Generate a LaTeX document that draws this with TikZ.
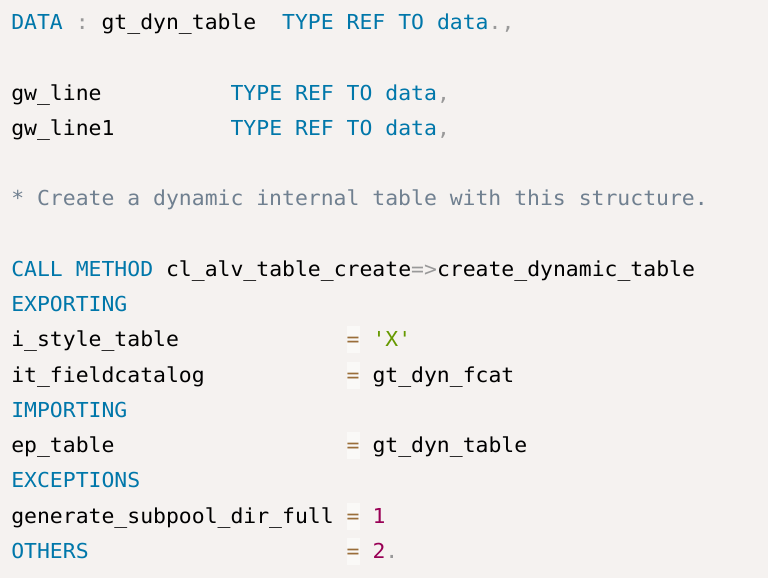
\documentclass[tikz,border=0pt]{standalone}
\usepackage{fontspec}
\newfontfamily\codefont[FakeStretch=1.04,Ligatures=TeXOff]{DejaVu Sans Mono}
\definecolor{bgc}{HTML}{F5F2F0}
\definecolor{kwc}{HTML}{0077AA}
\definecolor{cmc}{HTML}{708090}
\definecolor{puc}{HTML}{999999}
\definecolor{stc}{HTML}{669900}
\definecolor{nuc}{HTML}{990055}
\definecolor{opc}{HTML}{9A6E3A}
\definecolor{opbg}{HTML}{FAF9F7}
\tikzset{
  tk/.style={anchor=base west,inner sep=0pt,outer sep=0pt,
    font=\codefont\fontsize{20.6}{24}\selectfont,text=black},
  tkw/.style={text=kwc},
  tcm/.style={text=cmc},
  tpu/.style={text=puc},
  tst/.style={text=stc},
  tnu/.style={text=nuc},
  top/.style={text=opc},
  tpl/.style={},
}
\newcommand\tok[5]{\node[tk,#4] (#1) at ({11.3+12.9*#2},{-(29.5+35.25*#3)}) {#5};}
\newcommand\opbox[2]{\fill[opbg] ({11.3+12.9*26},{-(29.5+35.25*#2)+20.5}) rectangle ({11.3+12.9*27},{-(29.5+35.25*#2)-6.5});
  \tok{#1}{26}{#2}{top}{=}}
\begin{document}
\begin{tikzpicture}[x=1pt,y=1pt]
\fill[bgc] (0,0) rectangle (768,-578);
\useasboundingbox (0,0) rectangle (768,-578);
% line 0
\tok{a0}{0}{0}{tkw}{DATA}
\tok{a1}{5}{0}{tpu}{:}
\tok{a2}{7}{0}{tpl}{gt\_dyn\_table}
\tok{a3}{21}{0}{tkw}{TYPE}
\tok{a4}{26}{0}{tkw}{REF}
\tok{a5}{30}{0}{tkw}{TO}
\tok{a6}{33}{0}{tkw}{data}
\tok{a7}{37}{0}{tpu}{.,}
% line 2
\tok{b0}{0}{2}{tpl}{gw\_line}
\tok{b1}{17}{2}{tkw}{TYPE}
\tok{b2}{22}{2}{tkw}{REF}
\tok{b3}{26}{2}{tkw}{TO}
\tok{b4}{29}{2}{tkw}{data}
\tok{b5}{33}{2}{tpu}{,}
% line 3
\tok{c0}{0}{3}{tpl}{gw\_line1}
\tok{c1}{17}{3}{tkw}{TYPE}
\tok{c2}{22}{3}{tkw}{REF}
\tok{c3}{26}{3}{tkw}{TO}
\tok{c4}{29}{3}{tkw}{data}
\tok{c5}{33}{3}{tpu}{,}
% line 5
\tok{d0}{0}{5}{tcm}{* Create a dynamic internal table with this structure.}
% line 7
\tok{e0}{0}{7}{tkw}{CALL}
\tok{e1}{5}{7}{tkw}{METHOD}
\tok{e2}{12}{7}{tpl}{cl\_alv\_table\_create}
\tok{e3}{31}{7}{tpu}{=>}
\tok{e4}{33}{7}{tpl}{create\_dynamic\_table}
% line 8
\tok{f0}{0}{8}{tkw}{EXPORTING}
% line 9
\tok{g0}{0}{9}{tpl}{i\_style\_table}
\opbox{g1}{9}
\tok{g2}{28}{9}{tst}{'X'}
% line 10
\tok{h0}{0}{10}{tpl}{it\_fieldcatalog}
\opbox{h1}{10}
\tok{h2}{28}{10}{tpl}{gt\_dyn\_fcat}
% line 11
\tok{i0}{0}{11}{tkw}{IMPORTING}
% line 12
\tok{j0}{0}{12}{tpl}{ep\_table}
\opbox{j1}{12}
\tok{j2}{28}{12}{tpl}{gt\_dyn\_table}
% line 13
\tok{k0}{0}{13}{tkw}{EXCEPTIONS}
% line 14
\tok{l0}{0}{14}{tpl}{generate\_subpool\_dir\_full}
\opbox{l1}{14}
\tok{l2}{28}{14}{tnu}{1}
% line 15
\tok{m0}{0}{15}{tkw}{OTHERS}
\opbox{m1}{15}
\tok{m2}{28}{15}{tnu}{2}
\tok{m3}{29}{15}{tpu}{.}
\end{tikzpicture}
\end{document}
